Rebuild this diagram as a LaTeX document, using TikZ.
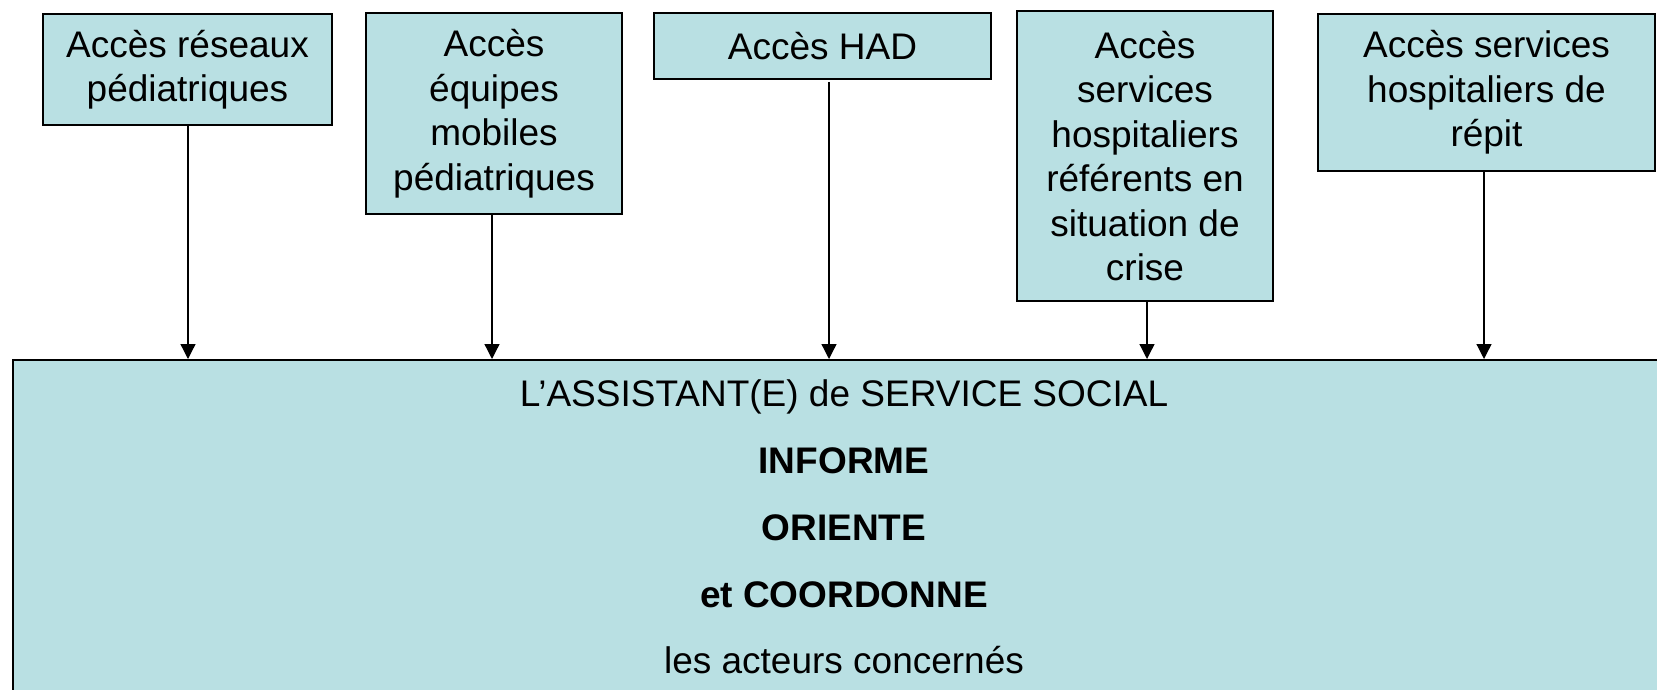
\documentclass[tikz,border=0pt]{standalone}
\usepackage{fontspec}
\setmainfont{Liberation Sans}
\usetikzlibrary{arrows.meta}
\definecolor{boxfill}{RGB}{185,224,227}
\begin{document}
\begin{tikzpicture}[x=1pt,y=-1pt,
  every node/.style={font=\fontsize{37}{44.5}\selectfont, text=black},
  acces/.style={draw=black, line width=1.6pt, fill=boxfill, align=center, inner sep=0pt},
  bold/.style={font=\fontsize{37}{44.5}\selectfont\bfseries},
  link/.style={line width=1.3pt, -{Triangle[width=15pt,length=15pt]}}]
\useasboundingbox (0,0) rectangle (1657,690);
\clip (0,0) rectangle (1657,690);
\node[acces, minimum width=289pt, minimum height=111pt] (b1) at (187.5,69.5) {Accès réseaux\\pédiatriques};
\node[acces, minimum width=256pt, minimum height=201pt] (b2) at (494,113.5) {Accès\\équipes\\mobiles\\pédiatriques};
\node[acces, minimum width=337pt, minimum height=66pt] (b3) at (822.5,46) {Accès HAD};
\node[acces, minimum width=256pt, minimum height=290pt] (b4) at (1145,156) {Accès\\services\\hospitaliers\\référents en\\situation de\\crise};
\node[acces, minimum width=337pt, minimum height=157pt] (b5) at (1486.5,92.5) {Accès services\\hospitaliers de\\répit};
\node[acces, minimum width=1664pt, minimum height=360pt, anchor=north west] (big) at (12,359) {};
\node[anchor=base] (l1) at (844,406) {L’ASSISTANT(E) de SERVICE SOCIAL};
\node[anchor=base, bold] (l2) at (844,473) {INFORME};
\node[anchor=base, bold] (l3) at (844,540) {ORIENTE};
\node[anchor=base, bold] (l4) at (844,607) {et COORDONNE};
\node[anchor=base] (l5) at (844,673) {les acteurs concernés};
\draw[link] ([xshift=0.5pt]b1.south) -- ([xshift=0.5pt]b1.south |- big.north);
\draw[link] ([xshift=-2pt]b2.south) -- ([xshift=-2pt]b2.south |- big.north);
\draw[link] ([xshift=6.5pt,yshift=-2pt]b3.south) -- ([xshift=6.5pt]b3.south |- big.north);
\draw[link] ([xshift=2pt]b4.south) -- ([xshift=2pt]b4.south |- big.north);
\draw[link] ([xshift=-2.5pt]b5.south) -- ([xshift=-2.5pt]b5.south |- big.north);
\end{tikzpicture}
\end{document}
